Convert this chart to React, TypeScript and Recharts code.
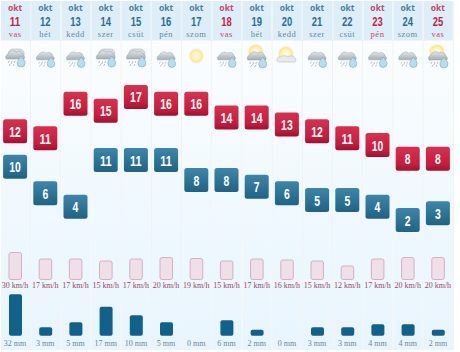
import React from "react";
import { ComposedChart, Bar, Line, XAxis, YAxis } from "recharts";

const days = ["11", "12", "13", "14", "15", "16", "17", "18", "19", "20", "21", "22", "23", "24", "25"];
const weekdays = ["vas", "hét", "kedd", "szer", "csüt", "pén", "szom", "vas", "hét", "kedd", "szer", "csüt", "pén", "szom", "vas"];
const holiday = [true, false, false, false, false, false, false, true, false, false, false, false, true, false, true];
const icons = ["heavy", "rain", "rain", "heavy", "heavy", "rain", "sun", "rain", "partlyRain", "partly", "rain", "rain", "rain", "rain", "partlyRain"];
const highs = [12, 11, 16, 15, 17, 16, 16, 14, 14, 13, 12, 11, 10, 8, 8];
const lows = [10, 6, 4, 11, 11, 11, 8, 8, 7, 6, 5, 5, 4, 2, 3];
const windKmh = [30, 17, 17, 15, 17, 20, 19, 15, 17, 16, 15, 12, 17, 20, 20];
const windBars = [27, 20.5, 20.5, 18.5, 20.5, 22, 21, 18.5, 20.5, 19.5, 18.5, 13.5, 20.5, 22, 22];
const rainMm = [32, 3, 5, 17, 10, 5, 0, 6, 2, 0, 3, 3, 4, 4, 2];
const rainBars = [41.5, 8.5, 13.5, 29, 20.5, 13.5, 0, 15.5, 6, 0, 8.5, 8.5, 11.5, 11.5, 6];

const data = days.map((d, i) => ({
  day: d,
  panel: 1,
  high: highs[i],
  low: lows[i],
  wind: windBars[i],
  rain: rainBars[i],
}));

const RED = "#c0244c";
const BLUE = "#2d6c92";
const SANS = "'Liberation Sans', sans-serif";
const SERIF = "'Liberation Serif', serif";

function Cloud({ big }: { big: boolean }) {
  return (
    <g>
      {big && <path d="M-7,-2 a5,5 0 0 1 5,-5 h6 a5,5 0 0 1 5,4 v3 h-16 z" fill="#dbe0e3" stroke="#a3adb4" strokeWidth={0.5} />}
      <path d="M-9,3 a3.5,3.5 0 0 1 2,-5 a5,5 0 0 1 8,-2 a4.5,4.5 0 0 1 7,3 a3,3 0 0 1 1,4 z" fill="url(#cloudFill)" stroke="#94a1aa" strokeWidth={0.5} />
      <path d="M-6,5 l-1,2 M-3,5 l-1,3 M0,5 l-1,2 M-5,8 l-1,2 M-1,8 l-1,2" stroke="#a5b0b8" strokeWidth={0.8} />
      <path d="M6,0 C8,3 10,5 10,7 a4,4 0 0 1 -8,0 C2,5 4,3 6,0 z" fill="#bcdcea" stroke="#7aa5bb" strokeWidth={0.6} />
    </g>
  );
}

function Sun({ x, y, r }: { x: number; y: number; r: number }) {
  return (
    <g>
      <circle cx={x} cy={y} r={r + 1.2} fill="#fdf6dc" />
      <circle cx={x} cy={y} r={r} fill="url(#sunFill)" />
    </g>
  );
}

function WeatherIcon({ kind }: { kind: string }) {
  if (kind === "sun") return <Sun x={0} y={0} r={6.5} />;
  if (kind === "partly")
    return (
      <g>
        <Sun x={-1} y={-2} r={7} />
        <path d="M-10,5 a3,3 0 0 1 3,-4 a5,3 0 0 1 8,0 a4,3 0 0 1 7,1 a2.5,2.5 0 0 1 0,4 h-16 z" fill="#e8ebec" stroke="#a9b2b6" strokeWidth={0.5} />
      </g>
    );
  if (kind === "partlyRain")
    return (
      <g>
        <Sun x={-1} y={-4} r={7} />
        <g transform="translate(0,1)"><Cloud big={false} /></g>
      </g>
    );
  return <g transform={kind === "rain" ? "translate(0,1) scale(0.95)" : "translate(0,0)"}><Cloud big={kind === "heavy"} /></g>;
}

function PanelShape(props: any) {
  const { x, width } = props;
  return (
    <g>
      <rect x={x} y={1} width={width} height={39.5} fill="#deeef8" />
      <rect x={x} y={41} width={width} height={309} fill="url(#bodyFill)" />
      <line x1={x + width + 0.6} x2={x + width + 0.6} y1={1} y2={350} stroke="#eef3f6" strokeWidth={1.2} />
    </g>
  );
}

function ColumnTick(props: any) {
  const { x, payload } = props;
  const i = days.indexOf(String(payload.value));
  const color = holiday[i] ? RED : BLUE;
  return (
    <g>
      <text x={x} y={10.5} textAnchor="middle" fontFamily="'Noto Sans', sans-serif" fontWeight={700} fontSize={8.5} fill={holiday[i] ? "#c2486c" : "#4d7f9d"}>okt</text>
      <text x={x} y={26} textAnchor="middle" fontFamily={SANS} fontWeight={700} fontSize={13} textLength={10.5} lengthAdjust="spacingAndGlyphs" fill={color}>{days[i]}</text>
      <text x={x} y={36.5} textAnchor="middle" fontFamily={SERIF} fontSize={8.5} letterSpacing={0.5} fill={holiday[i] ? "#c2486c" : "#5f8aa4"}>{weekdays[i]}</text>
      <g transform={`translate(${x},56)`}><WeatherIcon kind={icons[i]} /></g>
      <text x={x} y={288} textAnchor="middle" fontFamily={SERIF} fontSize={8} fill="#a04468">{windKmh[i] + " km/h"}</text>
      <text x={x} y={346} textAnchor="middle" fontFamily={SERIF} fontSize={8} fill="#6b8798">{rainMm[i] + " mm"}</text>
    </g>
  );
}

function TempBox(props: any, fill: string) {
  const { cx, cy, value, index } = props;
  return (
    <g key={index}>
      <rect x={cx - 12} y={cy - 12} width={24} height={24} rx={2.5} fill={fill} />
      <text x={cx} y={cy + 5.5} textAnchor="middle" fontFamily={SANS} fontWeight={700} fontSize={15} textLength={String(value).length * 5.8} lengthAdjust="spacingAndGlyphs" fill="#ffffff">{value}</text>
    </g>
  );
}

export default function App() {
  return (
    <div style={{ position: "absolute", left: 0, top: 0, width: 460, height: 352, background: "#ffffff" }}>
      <ComposedChart width={460} height={352} data={data} margin={{ top: 0, right: 7, bottom: 1, left: 0 }}>
        <defs>
          <linearGradient id="bodyFill" x1="0" y1="0" x2="0" y2="1">
            <stop offset="0" stopColor="#fbfdfe" />
            <stop offset="0.6" stopColor="#eef8fe" />
            <stop offset="1" stopColor="#e9f5fd" />
          </linearGradient>
          <linearGradient id="redFill" x1="0" y1="0" x2="0" y2="1">
            <stop offset="0" stopColor="#d8304f" />
            <stop offset="0.75" stopColor="#c41c3c" />
            <stop offset="1" stopColor="#a01030" />
          </linearGradient>
          <linearGradient id="blueFill" x1="0" y1="0" x2="0" y2="1">
            <stop offset="0" stopColor="#3d86aa" />
            <stop offset="1" stopColor="#1f6284" />
          </linearGradient>
          <linearGradient id="cloudFill" x1="0" y1="0" x2="0" y2="1">
            <stop offset="0" stopColor="#e2e6e9" />
            <stop offset="1" stopColor="#a3aeb6" />
          </linearGradient>
          <radialGradient id="sunFill">
            <stop offset="0" stopColor="#fffbe6" />
            <stop offset="0.7" stopColor="#fdf0b4" />
            <stop offset="1" stopColor="#f8e08a" />
          </radialGradient>
        </defs>
        <YAxis yAxisId="panel" hide domain={[0, 1]} />
        <YAxis yAxisId="red" hide domain={[-19.83, 31.12]} allowDataOverflow />
        <YAxis yAxisId="blue" hide domain={[-17.5, 35]} allowDataOverflow />
        <YAxis yAxisId="wind" hide domain={[-70.5, 279.5]} allowDataOverflow />
        <YAxis yAxisId="rain" hide domain={[-14.3, 335.7]} allowDataOverflow />
        <XAxis xAxisId="head" dataKey="day" scale="band" height={1} axisLine={false} tickLine={false} interval={0} tick={ColumnTick} />
        <XAxis xAxisId="wind" dataKey="day" hide />
        <XAxis xAxisId="rain" dataKey="day" hide />
        <Bar xAxisId="head" yAxisId="panel" dataKey="panel" barSize={29} shape={PanelShape} isAnimationActive={false} />
        <Bar xAxisId="wind" yAxisId="wind" dataKey="wind" barSize={12.5} fill="#efdfe9" stroke="#d5afc2" strokeWidth={1} radius={2} isAnimationActive={false} />
        <Bar xAxisId="rain" yAxisId="rain" dataKey="rain" barSize={13} fill="#10628c" radius={2} isAnimationActive={false} />
        <Line xAxisId="head" yAxisId="red" dataKey="high" stroke="none" isAnimationActive={false} activeDot={false} dot={(p: any) => TempBox(p, "url(#redFill)")} />
        <Line xAxisId="head" yAxisId="blue" dataKey="low" stroke="none" isAnimationActive={false} activeDot={false} dot={(p: any) => TempBox(p, "url(#blueFill)")} />
      </ComposedChart>
    </div>
  );
}
